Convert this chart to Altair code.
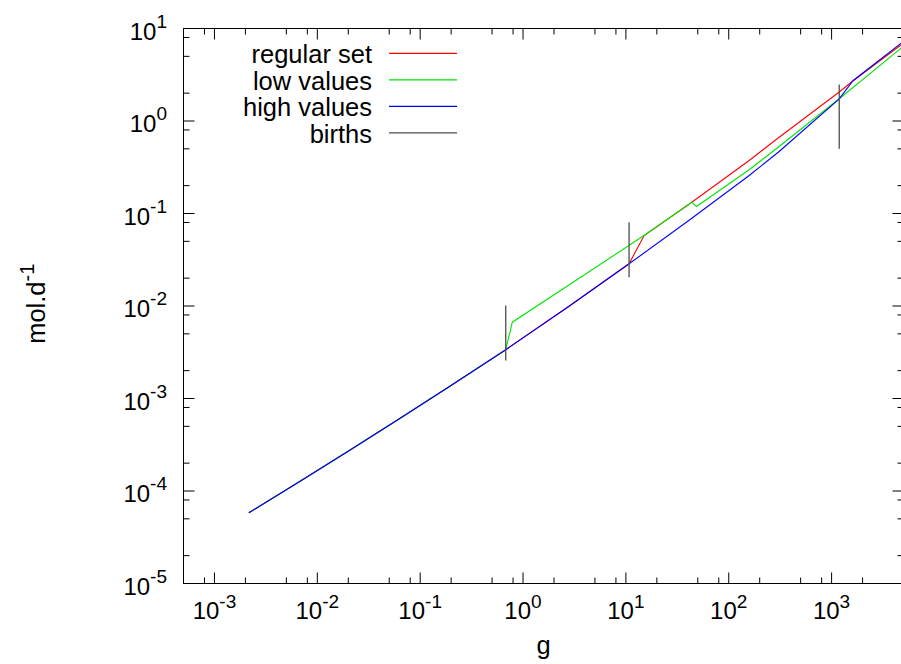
import altair as alt
import pandas as pd

# ---------------------------------------------------------------
# Daily flux (mol.d^-1) against body mass (g) for three parameter
# sets, with the mass at each birth event marked by a vertical bar.
# ---------------------------------------------------------------

regular_g = [0.00216, 0.00662, 0.0203, 0.0622, 0.191, 0.679, 2.80, 10.74,
             15.03, 43.75, 158.0, 309.0, 1186.0, 1586.0, 4645.0, 5000.0]
regular_v = [5.81e-5, 1.25e-4, 2.72e-4, 6.0e-4, 1.337e-3, 3.37e-3, 9.93e-3, 0.02858,
             0.0578, 0.1325, 0.374, 0.668, 2.058, 2.673, 6.55, 6.97]

low_g = [0.00216, 0.00662, 0.0203, 0.0622, 0.191, 0.679,
         0.787, 15.03, 43.75, 48.5, 158.0, 309.0, 1186.0, 4645.0, 5000.0]
low_v = [5.81e-5, 1.25e-4, 2.72e-4, 6.0e-4, 1.337e-3, 3.37e-3,
         6.68e-3, 0.0578, 0.1325, 0.119, 0.297, 0.530, 1.738, 6.03, 6.45]

high_g = [0.00216, 0.00662, 0.0203, 0.0622, 0.191, 0.679, 2.80, 10.74,
          41.2, 158.0, 309.0, 1186.0, 1622.0, 4648.0, 5000.0]
high_v = [5.81e-5, 1.25e-4, 2.72e-4, 6.0e-4, 1.337e-3, 3.37e-3, 9.93e-3, 0.02858,
          0.0844, 0.2575, 0.468, 1.738, 2.74, 6.83, 7.29]

births_g = [0.679, 10.74, 1186.0]
births_lo = [0.00258, 0.0205, 0.50]
births_hi = [0.0101, 0.0805, 2.48]

series_names = ["regular set", "low values", "high values", "births"]
series_colors = ["#ff0000", "#00e600", "#0000ff", "#4d4d4d"]

x_major = [1e-3, 1e-2, 1e-1, 1e0, 1e1, 1e2, 1e3]
x_exps = ["-3", "-2", "-1", "0", "1", "2", "3"]
y_major = [1e-5, 1e-4, 1e-3, 1e-2, 1e-1, 1e0, 1e1]
y_exps = ["-5", "-4", "-3", "-2", "-1", "0", "1"]
minor_mult = [2, 5, 8]

FONT = "Liberation Sans"
W, H = 717, 555          # visible plot area
XR = 720                 # full x range (right frame sits just past the page edge)
MAJ, MIN = 11, 6         # tick lengths
TXT = 25.5               # key and axis-title size

XS = alt.Scale(type="log", domain=[5e-4, 5000], range=[0, XR], nice=False)
YS = alt.Scale(type="log", domain=[1e-5, 10], nice=False)


def xq(field):
    return alt.X(f"{field}:Q", scale=XS, axis=None)


def yq(field):
    return alt.Y(f"{field}:Q", scale=YS, axis=None)


def series_line(g, v, color):
    df = pd.DataFrame({"g": g, "v": v, "i": list(range(len(g)))})
    return alt.Chart(df).mark_line(color=color, strokeWidth=1.1).encode(
        x=xq("g"), y=yq("v"), order="i:Q")


layers = []

# data curves: regular, low, high, then the birth markers on top
layers.append(series_line(regular_g, regular_v, series_colors[0]))
layers.append(series_line(low_g, low_v, series_colors[1]))
layers.append(series_line(high_g, high_v, series_colors[2]))
births = pd.DataFrame({"g": births_g, "lo": births_lo, "hi": births_hi})
layers.append(alt.Chart(births).mark_rule(color=series_colors[3], strokeWidth=1.3).encode(
    x=xq("g"), y=yq("lo"), y2="hi:Q"))

# frame (left, top, bottom)
one = pd.DataFrame({"a": [0]})
frame = alt.Chart(one).mark_rule(color="black", strokeWidth=1)
layers.append(frame.encode(x=alt.value(0), y=alt.value(0), y2=alt.value(H)))
layers.append(frame.encode(x=alt.value(0), x2=alt.value(XR), y=alt.value(0)))
layers.append(frame.encode(x=alt.value(0), x2=alt.value(XR), y=alt.value(H)))

# ticks, drawn inward on all four sides
x_minor = [m * t for t in [1e-4] + x_major for m in minor_mult if 5e-4 <= m * t <= 5000]
y_minor = [m * t for t in y_major for m in minor_mult if m * t < 10]
for vals, ln in [(x_major, MAJ), (x_minor, MIN)]:
    d = pd.DataFrame({"t": vals})
    layers.append(alt.Chart(d).mark_rule(color="black", strokeWidth=1).encode(
        x=xq("t"), y=alt.value(H), y2=alt.value(H - ln)))
    layers.append(alt.Chart(d).mark_rule(color="black", strokeWidth=1).encode(
        x=xq("t"), y=alt.value(0), y2=alt.value(ln)))
for vals, ln in [(y_major, MAJ), (y_minor, MIN)]:
    d = pd.DataFrame({"t": vals})
    layers.append(alt.Chart(d).mark_rule(color="black", strokeWidth=1).encode(
        y=yq("t"), x=alt.value(0), x2=alt.value(ln)))
    layers.append(alt.Chart(d).mark_rule(color="black", strokeWidth=1).encode(
        y=yq("t"), x=alt.value(XR), x2=alt.value(XR - ln)))

# x tick labels: "10" with a raised exponent, centred on the tick
xlab = pd.DataFrame({"t": x_major, "e": x_exps})
for part, off in [(xlab[xlab.t < 1], 4.9), (xlab[xlab.t >= 1], 8.0)]:
    layers.append(alt.Chart(part).mark_text(
        text="10", align="right", baseline="alphabetic", fontSize=24, font=FONT, dx=off
    ).encode(x=xq("t"), y=alt.value(H + 35.5)))
    layers.append(alt.Chart(part).mark_text(
        align="left", baseline="alphabetic", fontSize=19, font=FONT, dx=off
    ).encode(x=xq("t"), y=alt.value(H + 24.5), text="e:N"))

# y tick labels, right-aligned against the frame
ylab = pd.DataFrame({"t": y_major, "e": y_exps})
layers.append(alt.Chart(ylab).mark_text(
    align="right", baseline="alphabetic", fontSize=19, font=FONT, dy=-1
).encode(y=yq("t"), x=alt.value(-16.5), text="e:N"))
for part, ew in [(ylab[ylab.t < 1], 16.9), (ylab[ylab.t >= 1], 10.6)]:
    layers.append(alt.Chart(part).mark_text(
        text="10", align="right", baseline="alphabetic", fontSize=24, font=FONT, dy=11
    ).encode(y=yq("t"), x=alt.value(-16.5 - ew)))

# axis titles
layers.append(alt.Chart(one).mark_text(
    text="g", align="center", baseline="alphabetic", fontSize=TXT, font=FONT
).encode(x=alt.value(XR / 2), y=alt.value(H + 70)))
layers.append(alt.Chart(one).mark_text(
    text="mol.d", angle=270, align="right", baseline="alphabetic", fontSize=TXT, font=FONT
).encode(x=alt.value(-138.5), y=alt.value(253)))
layers.append(alt.Chart(one).mark_text(
    text="-1", angle=270, align="left", baseline="alphabetic", fontSize=20, font=FONT
).encode(x=alt.value(-150), y=alt.value(253)))

# key: label on the left, sample line on the right
for i, (name, color) in enumerate(zip(series_names, series_colors)):
    ry = 24.8 + 26.5 * i
    layers.append(alt.Chart(one).mark_text(
        text=name, align="right", baseline="alphabetic", fontSize=TXT, font=FONT
    ).encode(x=alt.value(188.5), y=alt.value(ry + 10)))
    layers.append(alt.Chart(one).mark_rule(color=color, strokeWidth=1.2).encode(
        x=alt.value(205.5), x2=alt.value(273.5), y=alt.value(ry)))

chart = alt.layer(*layers).properties(
    width=W,
    height=H,
    autosize=alt.AutoSizeParams(type="none"),
    padding={"left": 183.5, "top": 28.5, "right": 0, "bottom": 80},
    background="white",
).configure_view(stroke=None)

chart.save("out.html", embed_options={"renderer": "svg", "actions": False})
